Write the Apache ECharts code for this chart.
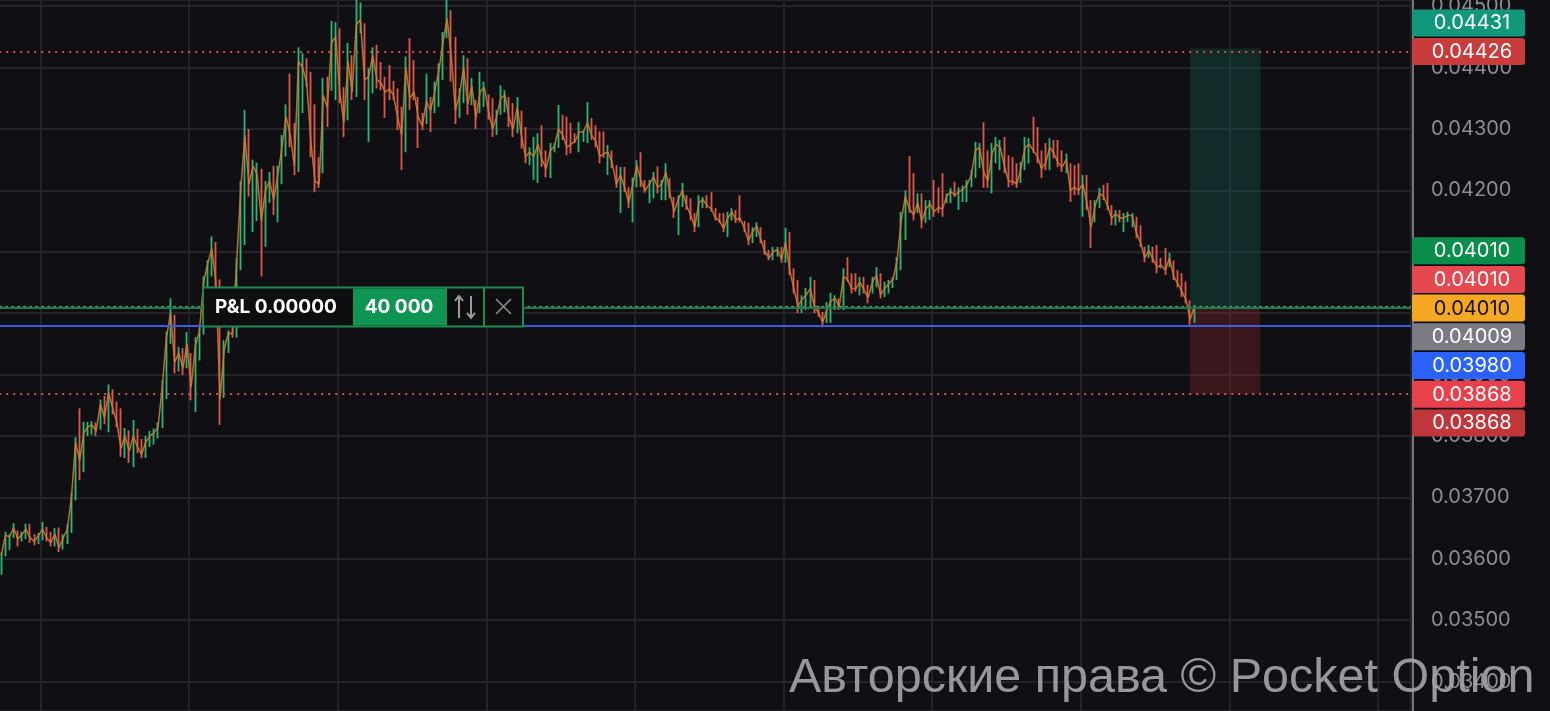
<!DOCTYPE html>
<html><head><meta charset="utf-8">
<script src="https://cdn.jsdelivr.net/npm/echarts@6/dist/echarts.min.js"></script>
<style>html,body{margin:0;padding:0;background:#101014;}#c{width:1550px;height:711px;}</style>
</head><body><div id="c"></div>
<script>
// Prices are in units of 0.00001 (e.g. 4010 = 0.04010). Each candle: [open, close, low, high]
const candles = [
[3590,3606,3574,3610],[3606,3638,3604,3644],[3630,3636,3614,3640],[3636,3650,3634,3658],[3645,3632,3620,3646],
[3632,3640,3628,3644],[3636,3648,3632,3657],[3648,3634,3626,3657],[3636,3628,3622,3640],[3628,3638,3624,3642],
[3634,3648,3630,3660],[3646,3634,3628,3652],[3634,3626,3620,3644],[3626,3640,3620,3650],[3640,3618,3611,3651],
[3620,3634,3615,3640],[3630,3648,3624,3656],[3648,3700,3642,3707],[3700,3790,3695,3798],[3795,3760,3728,3845],
[3760,3805,3741,3823],[3805,3815,3800,3823],[3808,3818,3802,3824],[3820,3808,3800,3822],[3815,3852,3810,3859],
[3852,3830,3819,3865],[3830,3870,3806,3884],[3866,3845,3835,3876],[3845,3822,3814,3856],[3822,3780,3766,3845],
[3782,3800,3764,3813],[3800,3775,3756,3809],[3772,3800,3749,3826],[3800,3782,3772,3812],[3785,3770,3764,3795],
[3770,3790,3764,3800],[3788,3800,3782,3808],[3796,3805,3786,3812],[3804,3815,3796,3822],[3815,3880,3813,3891],
[3880,3960,3860,3970],[3960,4000,3950,4024],[3995,3920,3902,3997],[3920,3935,3905,3945],[3935,3910,3899,3943],
[3912,3950,3910,3969],[3935,3880,3858,3935],[3880,3945,3839,3961],[3945,3970,3923,3977],[3970,4050,3965,4060],
[4050,4080,4040,4086],[4075,4105,4060,4125],[4105,4050,4043,4116],[4050,3860,3818,4055],[3870,3940,3862,3956],
[3940,3968,3935,3972],[3972,3966,3960,3977],[3966,4080,3960,4090],[4080,4200,4070,4215],[4200,4290,4111,4331],
[4290,4210,4190,4300],[4210,4240,4132,4250],[4180,4225,4150,4245],[4225,4150,4060,4235],[4150,4200,4108,4215],
[4200,4215,4180,4230],[4215,4185,4160,4240],[4185,4225,4148,4240],[4225,4270,4210,4290],[4270,4320,4255,4340],
[4320,4290,4270,4390],[4300,4240,4225,4310],[4240,4410,4230,4433],[4340,4400,4326,4423],[4405,4375,4368,4415],
[4380,4280,4254,4393],[4290,4215,4197,4340],[4245,4210,4204,4254],[4230,4355,4228,4383],[4360,4335,4303,4385],
[4370,4440,4362,4476],[4360,4450,4347,4474],[4450,4360,4342,4464],[4360,4310,4287,4368],[4320,4410,4314,4440],
[4410,4360,4347,4420],[4360,4470,4352,4510],[4462,4478,4456,4506],[4470,4380,4347,4472],[4340,4385,4279,4399],
[4380,4420,4358,4433],[4420,4380,4366,4437],[4395,4375,4363,4409],[4378,4360,4318,4385],[4380,4365,4347,4404],
[4368,4355,4347,4378],[4358,4320,4298,4366],[4320,4290,4233,4336],[4290,4400,4262,4418],[4400,4350,4331,4448],
[4400,4360,4347,4412],[4345,4320,4269,4352],[4322,4305,4298,4326],[4310,4345,4308,4390],[4345,4330,4295,4352],
[4330,4360,4326,4377],[4355,4395,4336,4407],[4390,4440,4380,4458],[4450,4480,4448,4510],[4480,4420,4377,4493],
[4420,4330,4308,4450],[4325,4355,4318,4366],[4350,4400,4342,4420],[4400,4340,4323,4415],[4342,4370,4339,4383],
[4345,4318,4300,4347],[4330,4360,4326,4393],[4345,4368,4336,4377],[4352,4330,4315,4356],[4335,4300,4287,4350],
[4298,4320,4290,4331],[4325,4350,4323,4371],[4335,4355,4327,4363],[4345,4318,4303,4352],[4320,4300,4287,4342],
[4298,4335,4293,4352],[4325,4290,4268,4330],[4290,4255,4244,4303],[4250,4262,4241,4270],[4235,4255,4217,4287],
[4240,4275,4212,4293],[4285,4250,4238,4306],[4255,4235,4221,4265],[4235,4265,4220,4277],[4264,4272,4262,4277],
[4272,4300,4269,4339],[4305,4290,4282,4323],[4300,4270,4257,4320],[4290,4275,4260,4310],[4290,4280,4277,4293],
[4275,4295,4262,4311],[4285,4295,4279,4298],[4290,4310,4277,4344],[4310,4290,4282,4318],[4295,4280,4270,4306],
[4285,4255,4244,4296],[4280,4260,4253,4296],[4235,4262,4225,4274],[4262,4245,4236,4265],[4240,4210,4204,4241],
[4200,4225,4163,4238],[4230,4205,4197,4238],[4200,4180,4171,4205],[4180,4210,4148,4221],[4210,4240,4205,4249],
[4240,4215,4205,4262],[4215,4200,4196,4217],[4195,4210,4179,4217],[4205,4222,4187,4230],[4225,4205,4195,4239],
[4198,4210,4184,4217],[4205,4230,4184,4244],[4215,4195,4187,4220],[4188,4165,4155,4189],[4160,4185,4127,4192],
[4180,4200,4173,4212],[4190,4175,4168,4192],[4180,4160,4151,4187],[4160,4140,4132,4163],[4145,4180,4140,4192],
[4175,4185,4171,4189],[4188,4175,4171,4192],[4185,4170,4165,4197],[4168,4155,4151,4171],[4160,4150,4147,4163],
[4155,4138,4132,4163],[4135,4155,4124,4165],[4155,4165,4151,4171],[4165,4152,4147,4168],[4170,4155,4148,4192],
[4148,4138,4132,4150],[4140,4118,4111,4147],[4118,4132,4114,4140],[4128,4142,4124,4148],[4138,4120,4114,4140],
[4115,4100,4095,4119],[4100,4090,4086,4103],[4090,4100,4086,4108],[4096,4104,4092,4108],[4104,4088,4082,4108],
[4090,4115,4082,4139],[4115,4070,4062,4132],[4070,4040,4032,4073],[4040,4012,4000,4054],[4010,4022,4000,4029],
[4015,4030,4005,4041],[4020,4040,4010,4059],[4040,4010,4000,4054],[4010,4000,3994,4012],[4000,3985,3977,4002],
[3988,4005,3984,4018],[3995,4020,3984,4033],[4010,4024,4005,4029],[4022,4010,4005,4024],[4012,4060,4005,4073],
[4065,4055,4051,4091],[4055,4040,4032,4065],[4050,4040,4035,4065],[4035,4050,4029,4059],[4050,4038,4032,4059],
[4040,4025,4016,4046],[4035,4050,4032,4059],[4048,4062,4042,4075],[4060,4030,4024,4065],[4030,4040,4026,4051],
[4038,4048,4032,4054],[4045,4055,4041,4059],[4055,4085,4054,4091],[4085,4150,4070,4165],[4150,4190,4119,4200],
[4200,4170,4163,4256],[4185,4160,4151,4228],[4165,4180,4163,4195],[4185,4150,4138,4195],[4150,4170,4147,4184],
[4165,4178,4152,4184],[4190,4165,4157,4217],[4190,4172,4163,4205],[4195,4170,4157,4228],[4180,4190,4179,4195],
[4185,4198,4179,4204],[4205,4192,4189,4214],[4180,4198,4168,4205],[4190,4202,4181,4208],[4195,4210,4181,4217],
[4210,4225,4205,4233],[4225,4265,4220,4279],[4250,4270,4236,4277],[4270,4230,4204,4311],[4245,4215,4204,4265],
[4215,4260,4195,4277],[4255,4275,4244,4287],[4250,4270,4233,4282],[4275,4240,4228,4287],[4245,4215,4205,4257],
[4235,4215,4208,4254],[4225,4210,4204,4244],[4215,4235,4212,4246],[4240,4270,4233,4287],[4258,4275,4244,4285],
[4285,4265,4261,4320],[4275,4255,4244,4303],[4255,4235,4220,4265],[4260,4245,4233,4277],[4240,4270,4233,4285],
[4275,4260,4252,4282],[4265,4245,4238,4282],[4250,4238,4230,4265],[4235,4250,4228,4260],[4240,4200,4181,4244],
[4225,4205,4192,4241],[4215,4200,4192,4244],[4185,4210,4157,4225],[4205,4180,4168,4225],[4180,4140,4106,4184],
[4150,4175,4148,4184],[4175,4195,4171,4204],[4200,4190,4184,4209],[4195,4175,4168,4212],[4172,4155,4143,4176],
[4150,4162,4143,4168],[4165,4155,4148,4168],[4140,4155,4132,4163],[4152,4160,4148,4165],[4150,4158,4140,4163],
[4155,4130,4122,4157],[4135,4115,4108,4143],[4105,4090,4083,4108],[4092,4102,4090,4111],[4100,4088,4082,4108],
[4095,4075,4065,4111],[4085,4078,4073,4090],[4085,4070,4062,4106],[4078,4090,4075,4098],[4080,4060,4054,4086],
[4062,4048,4042,4070],[4050,4035,4026,4065],[4038,4022,4016,4051],[4018,3990,3981,4021],[3992,4010,3984,4013]
];
const slotCount = 342;          // candle slots across the plot (incl. empty future slots)
const categories = Array.from({length: slotCount}, (_, i) => String(i + 1));
const closes = candles.map(d => d[1]);

const takeProfit = 4426;
const stopLoss = 3868;
const entryPrice = 4010;
const bluePrice = 3980;
const boxTop = 4431;

const tagTexts  = ['0.04431','0.04426','0.04010','0.04010','0.04010','0.04009','0.03980','0.03868','0.03868'];
const tagColors = ['#11977b','#c93c3c','#0b8d4b','#e5484e','#f6a822','#7b7b83','#2962ff','#e9414b','#c1363b'];
const tagInk    = ['#ffffff','#ffffff','#ffffff','#ffffff','#111111','#ffffff','#ffffff','#ffffff','#ffffff'];
const tagAnchor = [takeProfit,takeProfit,stopLoss,stopLoss,stopLoss,stopLoss,stopLoss,stopLoss,stopLoss];
const tagSlot   = [-1,0,-5,-4,-3,-2,-1,0,1];

const pnlText = 'P&L 0.00000';
const amountText = '40 000';
const watermark = 'Авторские права © Pocket Option';

const UP = '#2db775', DOWN = '#e2574c';
const lastIdx = candles.length - 1;

const chart = echarts.init(document.getElementById('c'));
chart.setOption({
  backgroundColor: '#101014',
  animation: false,
  grid: {left: -0.8, top: 0, width: slotCount * 4.128, height: 711, containLabel: false, outerBoundsMode: 'none'},
  xAxis: {
    type: 'category', data: categories, boundaryGap: true,
    axisLine: {show: false}, axisTick: {show: false}, axisLabel: {show: false},
    splitLine: {show: true, interval: (i) => i % 36 === 10, lineStyle: {color: '#232329', width: 2}}
  },
  yAxis: {
    type: 'value', position: 'right', min: 3352, max: 4510, splitNumber: 12, offset: 2, scale: true,
    axisLine: {show: true, lineStyle: {color: '#75757b', width: 2}},
    axisTick: {show: false},
    axisLabel: {color: '#8c8c93', fontSize: 20, fontFamily: 'Inter', margin: 18,
      showMinLabel: false, showMaxLabel: false, formatter: v => (v / 100000).toFixed(5)},
    splitLine: {show: true, lineStyle: {color: '#232329', width: 2}}
  },
  series: [
    {
      type: 'line', data: [], z: 1, silent: true,
      markLine: {
        symbol: ['none', 'none'], silent: true, label: {show: false}, animation: false,
        data: [
          {yAxis: takeProfit, lineStyle: {color: '#d8504c', type: [2, 5], width: 2}},
          {yAxis: stopLoss, lineStyle: {color: '#d8504c', type: [2, 5], width: 2}},
          {yAxis: bluePrice, lineStyle: {color: '#3a5ce0', type: 'solid', width: 2}},
          {yAxis: entryPrice - 0.5, lineStyle: {color: '#1d7a47', type: 'solid', width: 2}},
          {yAxis: entryPrice + 1.5, lineStyle: {color: '#4f9a6c', type: [3, 3], width: 1.2}}
        ]
      },
      markArea: {
        silent: true,
        data: [
          [{xAxis: lastIdx - 1, yAxis: boxTop, itemStyle: {color: 'rgba(20,92,78,0.36)'}}, {xAxis: lastIdx + 16, yAxis: entryPrice}],
          [{xAxis: lastIdx - 1, yAxis: entryPrice, itemStyle: {color: 'rgba(130,35,45,0.38)'}}, {xAxis: lastIdx + 16, yAxis: stopLoss}]
        ]
      }
    },
    {
      type: 'candlestick', data: candles, barWidth: 1, z: 3,
      itemStyle: {color: UP, color0: DOWN, borderColor: UP, borderColor0: DOWN, borderWidth: 1.8}
    },
    {
      type: 'line', data: closes, z: 4, symbol: 'none', silent: true,
      lineStyle: {color: '#cf7a2c', width: 1.5, opacity: 0.9}
    }
  ]
});

const yOf = v => chart.convertToPixel({yAxisIndex: 0}, v);
const graphics = [];
// price tags
tagTexts.forEach((t, k) => {
  const yc = yOf(tagAnchor[k]) + tagSlot[k] * 28.7;
  graphics.push({type: 'rect', z: 100, shape: {x: 1412, y: yc - 13.5, width: 113, height: 27, r: 3},
    style: {fill: tagColors[k]}});
  graphics.push({type: 'text', z: 101, x: 1472, y: yc + 0.5,
    style: {text: t, fill: tagInk[k], font: '20px Inter', align: 'center', verticalAlign: 'middle',
      textAlign: 'center', textVerticalAlign: 'middle'}});
});
// P&L widget on the entry line
const ye = yOf(entryPrice);
graphics.push({type: 'rect', z: 100, shape: {x: 203, y: ye - 19.5, width: 320, height: 39},
  style: {fill: '#0e0e11', stroke: '#1f8b51', lineWidth: 2}});
graphics.push({type: 'rect', z: 101, shape: {x: 353, y: ye - 18.5, width: 92, height: 37}, style: {fill: '#0e9551'}});
graphics.push({type: 'line', z: 101, shape: {x1: 446, y1: ye - 19, x2: 446, y2: ye + 19}, style: {stroke: '#1f8b51', lineWidth: 2}});
graphics.push({type: 'line', z: 101, shape: {x1: 484, y1: ye - 19, x2: 484, y2: ye + 19}, style: {stroke: '#1f8b51', lineWidth: 2}});
graphics.push({type: 'text', z: 102, x: 215, y: ye,
  style: {text: pnlText, fill: '#ffffff', font: 'bold 19px Inter', align: 'left', verticalAlign: 'middle', textVerticalAlign: 'middle'}});
graphics.push({type: 'text', z: 102, x: 399, y: ye,
  style: {text: amountText, fill: '#ffffff', font: 'bold 19px Inter', align: 'center', verticalAlign: 'middle', textAlign: 'center', textVerticalAlign: 'middle'}});
// up/down arrows icon
graphics.push({type: 'polyline', z: 102, shape: {points: [[459, ye + 11], [459, ye - 10]]}, style: {stroke: '#9b9ba0', lineWidth: 2}});
graphics.push({type: 'polyline', z: 102, shape: {points: [[455, ye - 6], [459, ye - 11], [463, ye - 6]]}, style: {stroke: '#9b9ba0', lineWidth: 2, fill: null}});
graphics.push({type: 'polyline', z: 102, shape: {points: [[471, ye - 11], [471, ye + 10]]}, style: {stroke: '#9b9ba0', lineWidth: 2}});
graphics.push({type: 'polyline', z: 102, shape: {points: [[467, ye + 6], [471, ye + 11], [475, ye + 6]]}, style: {stroke: '#9b9ba0', lineWidth: 2, fill: null}});
// close icon
graphics.push({type: 'line', z: 102, shape: {x1: 496, y1: ye - 8, x2: 511, y2: ye + 7}, style: {stroke: '#8d8d92', lineWidth: 1.6}});
graphics.push({type: 'line', z: 102, shape: {x1: 511, y1: ye - 8, x2: 496, y2: ye + 7}, style: {stroke: '#8d8d92', lineWidth: 1.6}});
// watermark
graphics.push({type: 'text', z: 120, x: 789, y: 679,
  style: {text: watermark, fill: 'rgba(170,170,172,0.88)', font: '48.5px "Liberation Sans"', align: 'left', verticalAlign: 'middle', textVerticalAlign: 'middle'}});

chart.setOption({graphic: graphics});
</script>
</body></html>
